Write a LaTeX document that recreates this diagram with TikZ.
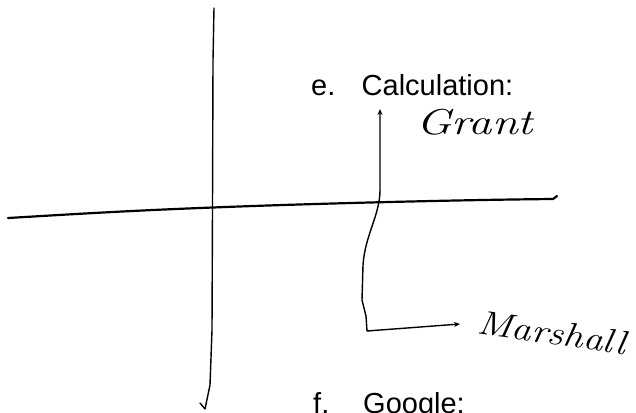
\documentclass[tikz,border=0pt]{standalone}
\usepackage{fontspec}
\usepackage{graphicx}
\newfontfamily\printfont{Liberation Sans}
\usetikzlibrary{arrows.meta}
\begin{document}
\begin{tikzpicture}[x=1pt,y=-1pt,
  axisline/.style={line width=2.2pt, line cap=round, line join=round},
  penline/.style={line width=1.4pt, line cap=round, line join=round},
  bothtips/.style={>={Stealth[length=6pt,width=5pt]}, <->},
  printed/.style={font=\printfont\fontsize{29}{33}\selectfont, inner sep=0pt, anchor=base west},
  hand/.style={inner sep=0pt, anchor=base west},
]
\useasboundingbox (0,0) rectangle (636,412);

% axes
\draw[axisline] (8,218) .. controls (60,215) and (120,211) .. (213,207.5)
  .. controls (300,204) and (450,200) .. (553,199) -- (557,196);
\draw[penline] (214,8) -- (213,60) -- (212.5,207) -- (212,330) -- (210,385) -- (205,409) -- (200,403);

% printed text
\node[printed] (e) at (311,95) {e.};
\node[printed] (calc) at (361.5,95) {Calculation:};
\node[printed] (f) at (313,413) {f.};
\node[printed] (google) at (363,413) {Google:};

% handwriting
\node[hand] (grant) at (416,134)
  {\scalebox{1.3}[1]{\itshape\fontsize{36}{40}\selectfont Grant}};
\node[hand, anchor=north west] (marshall) at (476,310)
  {\rotatebox{-8}{\scalebox{1.17}[1]{\itshape\fontsize{34}{38}\selectfont Marshall}}};

% connector
\coordinate (gtip) at (380,109);
\coordinate (mtip) at (460,324);
\draw[penline, bothtips] (gtip) -- (380,190) .. controls (380,215) and (365,235) .. (363,265)
  -- (362,300) -- (366,316) -- (367,331) -- (mtip);
\end{tikzpicture}
\end{document}
